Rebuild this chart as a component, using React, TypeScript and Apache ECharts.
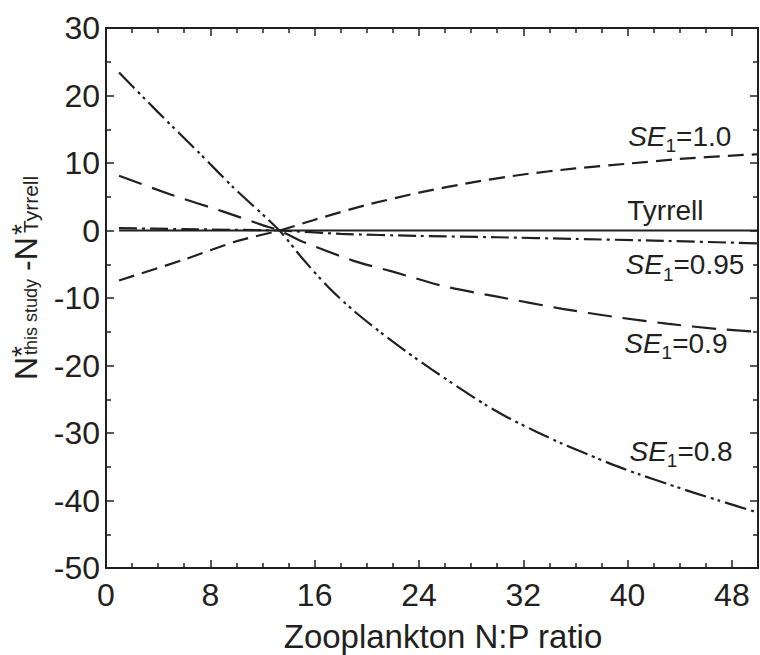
import React, { useEffect, useRef } from "react";
import * as echarts from "echarts";

// ---- data ----
const tyrrellX = [1, 50];
const tyrrellY = [0, 0];

const se10X = [1, 6, 10, 13.3, 16, 20, 24, 28, 32, 36, 40, 44, 48, 50];
const se10Y = [-7.4, -4.3, -1.6, 0, 1.6, 3.8, 5.6, 7.1, 8.3, 9.2, 9.9, 10.6, 11.1, 11.3];

const se095X = [1, 6, 10, 13.3, 18, 24, 30, 36, 42, 50];
const se095Y = [0.35, 0.2, 0.1, 0, -0.5, -0.8, -1.0, -1.25, -1.5, -1.9];

const se09X = [1, 5, 9, 12, 13.3, 15, 19, 22, 26, 30, 35, 39, 43, 47, 50];
const se09Y = [8.1, 5.3, 2.8, 0.8, 0, -1.6, -4.5, -6.1, -8.3, -9.8, -11.6, -12.8, -13.8, -14.6, -15.0];

const se08X = [1, 4, 7.2, 9.7, 13.3, 15, 17, 19, 21, 23, 25, 27, 29, 31, 33, 35, 37, 39, 41, 43, 45, 47, 50];
const se08Y = [23.4, 17.5, 11.4, 6.5, 0, -4.0, -8.3, -11.9, -15.0, -17.9, -20.6, -23.2, -25.7, -27.9, -29.8, -31.6, -33.2, -34.8, -36.2, -37.5, -38.8, -40.0, -41.8];

// curve annotations (data coordinates of label centres)
const annX = [44.0, 42.9, 44.4, 43.7, 44.1];
const annY = [14.0, 3.0, -5.1, -16.7, -32.7];
const annText = ["SE|1|=1.0", "Tyrrell", "SE|1|=0.95", "SE|1|=0.9", "SE|1|=0.8"];

const xTicks = { min: 0, max: 50, interval: 8 };
const yTicks = { min: -50, max: 30, interval: 10 };

const INK = "#231f20";
const FONT = "'Liberation Sans', Arial, Helvetica, sans-serif";

const zip = (xs: number[], ys: number[]) => xs.map((x, i) => [x, ys[i]]);

export default function App() {
  const ref = useRef<HTMLDivElement>(null);

  useEffect(() => {
    if (!ref.current) return;
    const chart = echarts.init(ref.current, undefined, { renderer: "svg" });

    const axisCommon = {
      axisLine: { show: true, onZero: false, lineStyle: { color: INK, width: 2 } },
      axisTick: { show: true, inside: true, length: 8, lineStyle: { color: INK, width: 1.5 } },
      minorTick: { show: true, length: 5, lineStyle: { color: INK, width: 1.5 } },
      splitLine: { show: false },
      minorSplitLine: { show: false },
    };

    const xBase = {
      type: "value" as const,
      min: xTicks.min,
      max: xTicks.max,
      interval: xTicks.interval,
      ...axisCommon,
      minorTick: { ...axisCommon.minorTick, splitNumber: 4 },
    };
    const yBase = {
      type: "value" as const,
      min: yTicks.min,
      max: yTicks.max,
      interval: yTicks.interval,
      ...axisCommon,
      minorTick: { ...axisCommon.minorTick, splitNumber: 2 },
    };

    const lineSeries = (name: string, data: number[][], type: any, smooth: number) => ({
      name,
      type: "line",
      data,
      showSymbol: false,
      symbol: "none",
      smooth,
      lineStyle: { color: INK, width: 2.2, type },
      z: 3,
    });

    const annData = annText.map((t, i) => ({ value: [annX[i], annY[i]], txt: t }));

    chart.setOption({
      animation: false,
      backgroundColor: "#ffffff",
      grid: { left: 106, top: 28, width: 652, height: 540, containLabel: false },
      xAxis: [
        {
          ...xBase,
          position: "bottom",
          axisLabel: { show: true, fontSize: 32, color: INK, fontFamily: FONT, margin: 11 },
        },
        { ...xBase, position: "top", axisLabel: { show: false } },
      ],
      yAxis: [
        {
          ...yBase,
          position: "left",
          axisLabel: { show: true, fontSize: 32, color: INK, fontFamily: FONT, margin: 6 },
        },
        { ...yBase, position: "right", axisLabel: { show: false } },
      ],
      series: [
        lineSeries("Tyrrell", zip(tyrrellX, tyrrellY), "solid", 0),
        lineSeries("SE1=1.0", zip(se10X, se10Y), [16, 8], 0.25),
        lineSeries("SE1=0.95", zip(se095X, se095Y), [18, 5, 3, 5], 0.25),
        lineSeries("SE1=0.9", zip(se09X, se09Y), [24, 11], 0.25),
        lineSeries("SE1=0.8", zip(se08X, se08Y), [22, 5, 3, 4, 3, 5], 0.25),
        {
          name: "labels",
          type: "scatter",
          symbolSize: 0,
          itemStyle: { color: INK, opacity: 1 },
          data: annData,
          z: 5,
          label: {
            show: true,
            position: "inside",
            color: INK,
            opacity: 1,
            textBorderWidth: 0,
            textBorderColor: "transparent",
            formatter: (p: any) => {
              const t: string = p.data.txt;
              if (t.indexOf("|") < 0) return `{n|${t}}`;
              const [a, b, c] = t.split("|");
              return `{it|${a}}{sub|${b}}{n|${c}}`;
            },
            rich: {
              it: { fontSize: 28, fontStyle: "italic", color: INK, fontFamily: FONT, lineHeight: 38, verticalAlign: "middle", textBorderWidth: 0 },
              n: { fontSize: 28, color: INK, fontFamily: FONT, lineHeight: 38, verticalAlign: "middle", textBorderWidth: 0 },
              sub: { fontSize: 19, color: INK, fontFamily: FONT, lineHeight: 19, verticalAlign: "bottom", textBorderWidth: 0 },
            },
          },
        },
      ],
      graphic: [
        {
          type: "group",
          x: 37,
          y: 380,
          rotation: Math.PI / 2,
          children: [
            { type: "text", x: 0, y: -11, style: { text: "N", fontSize: 32, fontFamily: FONT, fill: INK, align: "left", verticalAlign: "middle" } },
            { type: "text", x: 23, y: -16, style: { text: "*", fontSize: 28, fontFamily: FONT, fill: INK, align: "left", verticalAlign: "middle" } },
            { type: "text", x: 25, y: -6, style: { text: "this study", fontSize: 18, fontFamily: FONT, fill: INK, align: "left", verticalAlign: "middle" } },
            { type: "text", x: 109, y: -11, style: { text: "-N", fontSize: 32, fontFamily: FONT, fill: INK, align: "left", verticalAlign: "middle" } },
            { type: "text", x: 145, y: -16, style: { text: "*", fontSize: 28, fontFamily: FONT, fill: INK, align: "left", verticalAlign: "middle" } },
            { type: "text", x: 147, y: -7, style: { text: "Tyrrell", fontSize: 21, fontFamily: FONT, fill: INK, align: "left", verticalAlign: "middle" } },
          ],
        },
        {
          type: "text",
          x: 443,
          y: 636,
          style: { text: "Zooplankton N:P ratio", fontSize: 33, fontFamily: FONT, fill: INK, align: "center", verticalAlign: "middle" },
        },
      ],
    });

    return () => chart.dispose();
  }, []);

  return (
    <div
      ref={ref}
      style={{ position: "absolute", left: 0, top: 0, width: 760, height: 655, background: "#fff" }}
    />
  );
}
